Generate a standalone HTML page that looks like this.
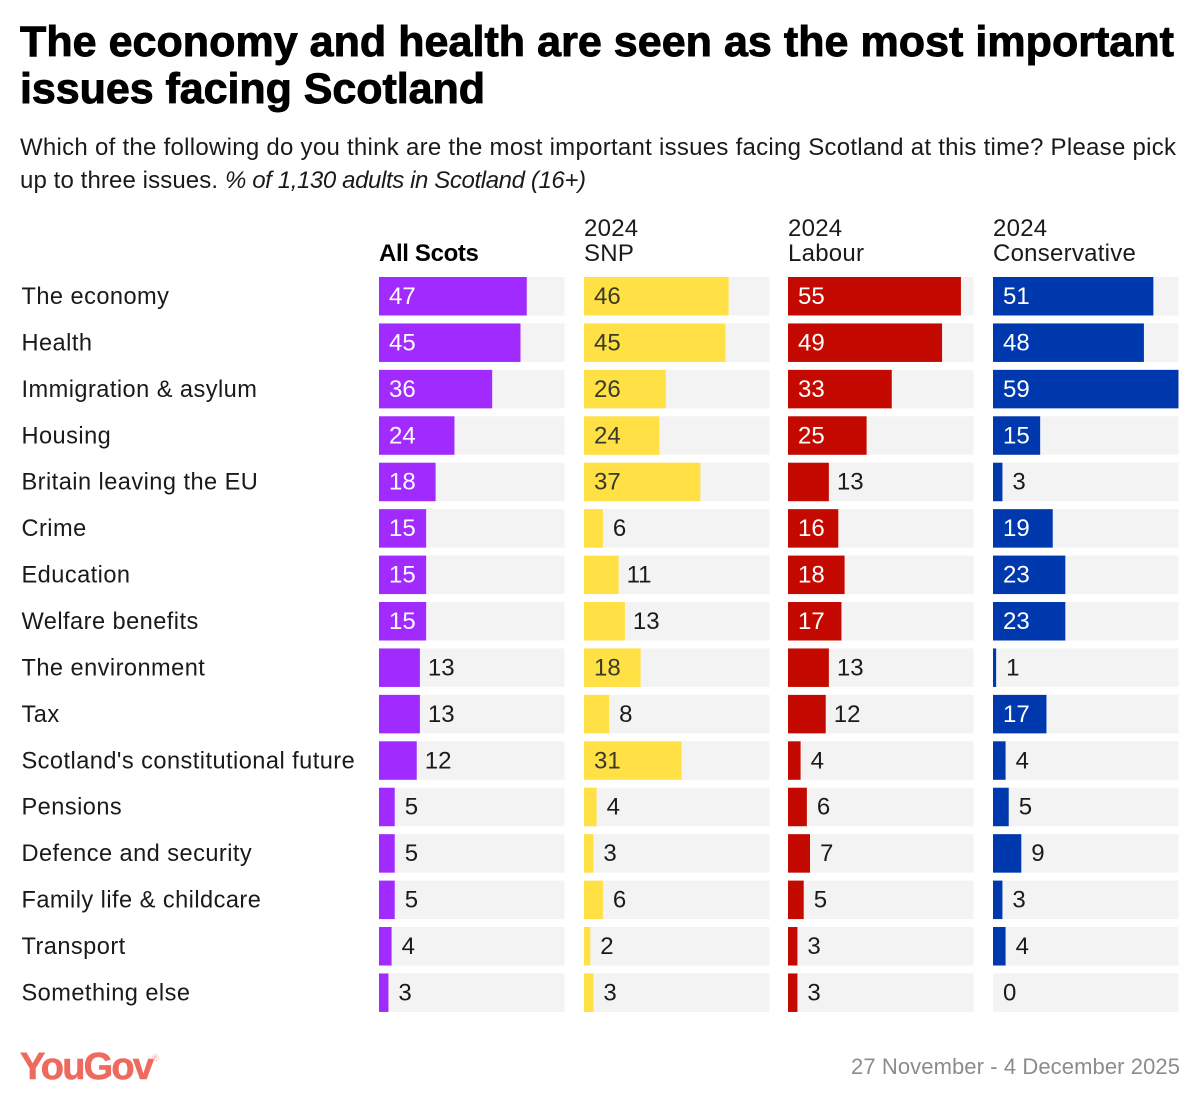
<!DOCTYPE html>
<html lang="en">
<head>
<meta charset="utf-8">
<title>The economy and health are seen as the most important issues facing Scotland</title>
<style>
html,body{margin:0;padding:0;background:#fff;}
svg{display:block;font-family:"Liberation Sans",Arial,sans-serif;}
</style>
</head>
<body>
<svg id="chart" xmlns="http://www.w3.org/2000/svg" width="1200" height="1105" viewBox="0 0 1200 1105">
  <rect width="1200" height="1105" fill="#fff"/>
  <g font-size="43" font-weight="700" fill="#000" stroke="#000" stroke-width="0.9">
    <text x="20" y="56" textLength="1154" lengthAdjust="spacing">The economy and health are seen as the most important</text>
    <text x="20" y="103" textLength="465" lengthAdjust="spacing">issues facing Scotland</text>
  </g>
  <g font-size="24" fill="#1a1a1a">
    <text x="20" y="155" textLength="1156" lengthAdjust="spacing">Which of the following do you think are the most important issues facing Scotland at this time? Please pick</text>
    <text x="20" y="188" textLength="198" lengthAdjust="spacing">up to three issues.</text>
    <text x="225" y="188" font-style="italic" textLength="361" lengthAdjust="spacing">% of 1,130 adults in Scotland (16+)</text>
  </g>
  <g id="plot"></g>
  <g fill="#ee6a5e">
    <text x="20" y="1079" font-size="38" font-weight="700" stroke="#ee6a5e" stroke-width="0.6" textLength="134" lengthAdjust="spacing">YouGov</text>
    <text x="152" y="1061" font-size="9" fill="#f4a49c">®</text>
  </g>
  <text x="1180" y="1074" text-anchor="end" font-size="22" fill="#8c8c8c" textLength="329" lengthAdjust="spacing">27 November - 4 December 2025</text>
</svg>
<script>
const categories = ["The economy","Health","Immigration & asylum","Housing","Britain leaving the EU","Crime","Education","Welfare benefits","The environment","Tax","Scotland's constitutional future","Pensions","Defence and security","Family life & childcare","Transport","Something else"];
const allScots = [47,45,36,24,18,15,15,15,13,13,12,5,5,5,4,3];
const snp = [46,45,26,24,37,6,11,13,18,8,31,4,3,6,2,3];
const labour = [55,49,33,25,13,16,18,17,13,12,4,6,7,5,3,3];
const conservative = [51,48,59,15,3,19,23,23,1,17,4,5,9,3,4,0];
const domainMax = 59;

const NS = 'http://www.w3.org/2000/svg';
const plot = document.getElementById('plot');
const panelWidth = 185.5;
const rowTop = 277;
const rowStep = 46.43;
const rowHeight = 38.5;
const insideMin = 15;

function xScale(v){ return v / domainMax * panelWidth; }
function yScale(i){ return rowTop + i * rowStep; }

function svgEl(tag, attrs, text){
  const el = document.createElementNS(NS, tag);
  for (const k in attrs) el.setAttribute(k, attrs[k]);
  if (text !== undefined) el.textContent = text;
  return el;
}

const columns = [
  {key:'all-scots', x:379, color:'#a12bff', ink:'#fff', values:allScots, head:['', 'All Scots'], bold:true},
  {key:'snp', x:584, color:'#ffe045', ink:'#3a3a2a', values:snp, head:['2024', 'SNP']},
  {key:'labour', x:788, color:'#c40a00', ink:'#fff', values:labour, head:['2024', 'Labour']},
  {key:'conservative', x:993, color:'#0039ad', ink:'#fff', values:conservative, head:['2024', 'Conservative']}
];

categories.forEach(function(name, i){
  const label = svgEl('text', {x:21.5, y:yScale(i)+27, 'font-size':23.6, 'letter-spacing':0.45, fill:'#1a1a1a'}, name);
  
  
  plot.appendChild(label);
});

columns.forEach(function(col){
  const g = svgEl('g', {});
  
  
  plot.appendChild(g);

  if (col.head[0]) {
    const h1 = svgEl('text', {x:col.x, y:236, 'font-size':24, 'letter-spacing':0.25, fill:'#1a1a1a'}, col.head[0]);
    
    
    g.appendChild(h1);
  }
  const h2 = svgEl('text', {
    x: col.x, y: 261, 'font-size': 24,
    'letter-spacing': col.bold ? -0.35 : 0.25,
    fill: col.bold ? '#000' : '#1a1a1a',
    'font-weight': col.bold ? 700 : 400
  }, col.head[1]);
  
  
  g.appendChild(h2);

  col.values.forEach(function(v, i){
    const y = yScale(i);
    const track = svgEl('rect', {x:col.x, y:y, width:panelWidth, height:rowHeight, fill:'#f3f3f3'});
    
    
    g.appendChild(track);

    const w = xScale(v);
    const bar = svgEl('rect', {x:col.x, y:y, width:w, height:rowHeight, fill:col.color});
    
    
    g.appendChild(bar);

    const inside = v >= insideMin;
    const outsideGap = v >= 10 ? 8 : 10;
    const value = svgEl('text', {
      x: inside ? col.x + 10 : col.x + w + outsideGap,
      y: y + 27,
      'font-size': 24,
      fill: inside ? col.ink : '#1a1a1a'
    }, String(v));
    
    
    g.appendChild(value);
  });
});
</script>
</body>
</html>
